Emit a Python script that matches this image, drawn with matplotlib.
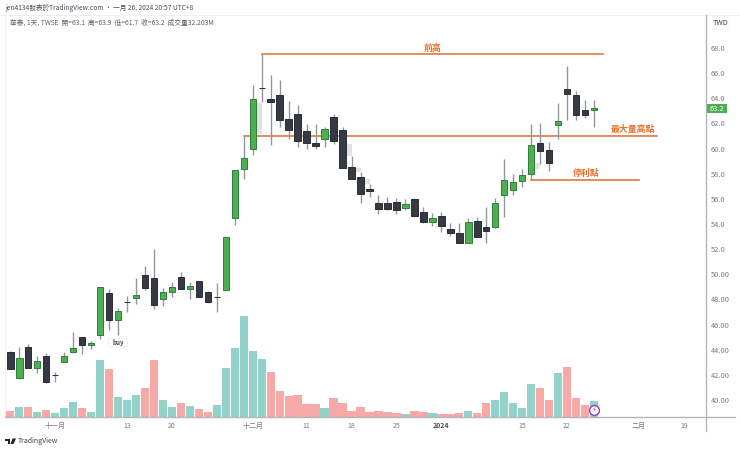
import matplotlib
matplotlib.use('Agg')
import matplotlib.pyplot as plt
import numpy as np
from matplotlib.lines import Line2D
from matplotlib.patches import FancyBboxPatch, Polygon, Rectangle

# daily candles, index 0 is the first bar on the left
opens = [43.81, 41.77, 44.19, 42.57, 43.52, 42.0, 43.0, 43.81, 45.0, 44.37, 45.14,
         48.48, 46.39, 47.77, 48.14, 49.97, 49.68, 48.0, 48.59, 49.78, 48.85, 49.46,
         48.61, 48.19, 48.77, 54.5, 58.37, 59.99, 64.82, 63.97, 64.26, 62.38, 62.77,
         61.37, 60.47, 60.79, 62.48, 61.45, 58.56, 57.76, 56.75, 55.64, 55.64, 55.75,
         55.27, 55.96, 54.95, 54.18, 54.66, 53.58, 53.28, 52.49, 54.26, 53.79, 53.79,
         56.3, 56.7, 57.39, 57.97, 60.47, 59.86, 61.87, 64.76, 64.26, 63.07, 63.1]
highs = [43.92, 44.19, 44.42, 43.5, 43.71, 42.25, 43.79, 45.43, 45.0, 44.72, 48.96,
         48.8, 47.29, 48.27, 49.68, 50.68, 51.98, 48.88, 49.41, 50.15, 49.41, 49.49,
         48.64, 49.3, 53.0, 58.27, 61.0, 65.06, 67.5, 65.88, 65.45, 63.78, 63.46,
         61.95, 61.98, 61.74, 62.75, 61.69, 59.4, 58.1, 57.18, 56.28, 56.17, 56.04,
         55.96, 56.06, 55.32, 54.84, 54.98, 54.05, 54.05, 54.45, 54.58, 55.37, 56.04,
         59.17, 57.97, 58.37, 61.98, 62.0, 60.49, 63.6, 66.57, 64.58, 63.86, 63.9]
lows = [42.46, 41.64, 42.57, 42.17, 41.35, 41.45, 43.0, 43.71, 43.68, 44.05, 44.87,
        45.6, 45.19, 47.02, 47.66, 48.72, 47.26, 47.5, 48.19, 48.83, 48.03, 48.19,
        47.74, 47.02, 48.77, 53.9, 57.58, 59.49, 63.7, 60.28, 61.69, 60.73, 60.12,
        60.0, 60.0, 60.1, 60.4, 58.42, 57.58, 55.69, 56.17, 54.82, 55.11, 54.82,
        55.11, 54.53, 54.1, 53.84, 53.39, 53.07, 52.49, 52.49, 52.99, 52.49, 53.7,
        54.58, 56.3, 56.97, 57.5, 58.77, 58.18, 60.79, 62.27, 62.27, 62.4, 61.7]
closes = [42.46, 43.36, 42.57, 43.12, 41.4, 42.0, 43.52, 44.1, 44.34, 44.53, 48.96,
          46.39, 47.05, 47.77, 48.38, 48.88, 47.58, 48.56, 49.0, 48.83, 49.07, 48.19,
          47.77, 48.19, 53.0, 58.27, 59.25, 63.97, 64.82, 63.68, 62.3, 61.47, 60.57,
          60.47, 60.18, 61.55, 60.6, 58.48, 57.58, 56.38, 56.6, 55.19, 55.19, 55.08,
          55.56, 54.66, 54.18, 54.47, 53.85, 53.28, 52.49, 54.18, 52.99, 53.47, 55.64,
          57.47, 57.36, 57.87, 60.25, 59.78, 58.87, 62.17, 64.37, 62.69, 62.69, 63.2]

# volume in millions, u = teal bar, d = red bar
volumes = [12.3, 19.2, 19.2, 9.6, 13.7, 6.9, 17.8, 30.1, 17.8, 9.6, 116.5, 98.0,
           40.4, 34.3, 43.8, 58.9, 115.8, 33.6, 20.6, 27.4, 21.9, 16.4, 10.3, 24.0,
           100.0, 141.1, 206.9, 135.6, 119.2, 91.8, 53.4, 42.5, 44.5, 26.0, 26.0, 18.5,
           39.0, 28.8, 12.3, 19.9, 10.3, 11.6, 8.9, 6.9, 5.5, 11.0, 8.9, 7.5, 6.2, 5.5,
           7.5, 12.3, 8.2, 28.1, 34.9, 50.0, 28.1, 17.8, 67.1, 59.6, 34.3, 89.7, 102.1,
           39.0, 24.7, 32.2]
vol_dirs = ['d', 'u', 'd', 'u', 'd', 'u', 'u', 'u', 'd', 'u', 'u', 'd', 'u', 'u', 'u', 'd', 'd',
            'u', 'u', 'd', 'u', 'd', 'd', 'u', 'u', 'u', 'u', 'u', 'u', 'd', 'd', 'd', 'd', 'd',
            'd', 'u', 'd', 'd', 'd', 'd', 'd', 'd', 'd', 'd', 'u', 'd', 'd', 'u', 'd', 'd', 'd',
            'u', 'd', 'd', 'u', 'u', 'u', 'u', 'u', 'd', 'd', 'u', 'd', 'd', 'd', 'u']

# faint grey leftovers beside a few candles: index, top, bottom
shade_idx = [28, 38, 39, 40, 59]
shade_top = [63.65, 60.36, 58.42, 57.58, 58.82]
shade_bot = [61.13, 59.41, 58.1, 57.18, 58.37]

# drawn levels: start index, end index, price, label, label index, label price
level_start = [28, 26, 58]
level_end = [66, 72, 70]
level_price = [67.5, 61.0, 57.5]
level_text = ['前高', '最大量高點', '停利點']
level_text_x = [47, 69.3, 64.1]
level_text_y = [68.0, 61.55, 58.05]

price_ticks = [68, 66, 64, 62, 60, 58, 56, 54, 52, 50, 48, 46, 44, 42, 40]
price_labels = ['68.0', '66.0', '64.0', '62.0', '60.0', '58.0', '56.0', '54.0', '52.0',
                '50.00', '48.00', '46.00', '44.00', '42.00', '40.00']
date_ticks = [5, 13, 18, 27, 33, 38, 43, 48, 57, 62, 70, 75]
date_labels = ['十一月', '13', '20', '十二月', '11', '18', '25', '2024', '15', '22', '二月', '19']

title_text = 'jen4134發表於TradingView.com · 一月 26, 2024 20:57 UTC+8'
info_text = '華泰, 1天, TWSE  開=63.1  高=63.9  低=61.7  收=63.2  成交量32.203M'

GREEN = '#4caf50'
GREEN_EDGE = '#2f7d3b'
DARK = '#363a45'
WICK = '#93969c'
TEAL = '#92d2c8'
PINK = '#f7a9a7'
ORANGE = '#df6a30'
TICK = '#787b86'

plt.rcParams['font.family'] = ['Noto Sans CJK TC', 'DejaVu Sans']

W, H = 740, 450
figure = plt.figure(figsize=(W / 100, H / 100), dpi=100)


def px_box(left, top, right, bottom):
    return [left / W, 1 - bottom / H, (right - left) / W, (bottom - top) / H]


def fx(x):
    return x / W


def fy(y):
    return 1 - y / H


vol_ax = figure.add_axes(px_box(5, 14.5, 706, 416.7))
axes = figure.add_axes(px_box(5, 14.5, 706, 416.7), sharex=vol_ax)
axes.patch.set_alpha(0)

x = np.arange(len(closes))
opens = np.array(opens)
closes = np.array(closes)

# volume
vol_colors = [TEAL if d == 'u' else PINK for d in vol_dirs]
vol_ax.bar(x, volumes, width=0.93, color=vol_colors, linewidth=0)
vol_ax.set_ylim(0, 826.5)
vol_ax.set_xlim(-0.59, 77.47)
vol_ax.set_yticks([])
vol_ax.set_xticks(date_ticks)
vol_ax.set_xticklabels(date_labels, fontsize=5, color=TICK)
vol_ax.tick_params(axis='x', length=0, pad=3.5)
for lab in vol_ax.get_xticklabels():
    if lab.get_text() == '2024':
        lab.set_color('#4a4d57')
        lab.set_fontweight('bold')
for side in ['top', 'right', 'left', 'bottom']:
    vol_ax.spines[side].set_visible(False)

# candles
axes.bar(shade_idx, np.array(shade_top) - np.array(shade_bot), bottom=shade_bot,
         width=-0.55, align='edge', color='#e2e3e1', linewidth=0, zorder=1)
for start, end, price in zip(level_start, level_end, level_price):
    axes.plot([start, end], [price, price], color=ORANGE, linewidth=1.1, zorder=2)
axes.vlines(x, lows, highs, color=WICK, linewidth=1.0, zorder=3)
up = closes > opens
axes.bar(x, np.abs(closes - opens), bottom=np.minimum(opens, closes), width=0.72,
         color=[GREEN if u else DARK for u in up],
         edgecolor=[GREEN_EDGE if u else '#2a2d36' for u in up], linewidth=0.7, zorder=4)

for label, lx, ly in zip(level_text, level_text_x, level_text_y):
    axes.text(lx, ly, label, color='#e8702a', fontsize=6.4, fontweight='bold',
              ha='center', va='center', zorder=6)

axes.set_ylim(38.67, 70.665)
axes.yaxis.tick_right()
axes.set_yticks(price_ticks)
axes.set_yticklabels(price_labels, fontsize=5.4, color=TICK)
axes.tick_params(axis='y', length=0, pad=3.5)
axes.tick_params(axis='x', length=0, labelbottom=False)
for side in ['top', 'right', 'left', 'bottom']:
    axes.spines[side].set_visible(False)

# buy tag
axes.add_patch(FancyBboxPatch((10.98, 44.23), 2.0, 0.68, boxstyle='round,pad=0.05,rounding_size=0.25',
                              facecolor='white', edgecolor='#ededed', linewidth=0.6,
                              mutation_aspect=0.35, zorder=5))
axes.text(11.98, 44.57, 'buy', fontsize=4.4, fontweight='bold', color='#444750',
          ha='center', va='center', zorder=6)

# flash marker on the last volume bar
vol_ax.scatter([65], [14.5], s=50, facecolor='white', edgecolor='#8e3fc0', linewidth=1.0,
               clip_on=False, zorder=5)
vol_ax.text(65, 14.5, '⚡', fontsize=5, color='#8e3fc0', ha='center', va='center',
            family=['DejaVu Sans'], zorder=6)

# frame lines
figure.add_artist(Line2D([fx(0), fx(740)], [fy(14.5), fy(14.5)], color='#ececec', linewidth=0.6))
figure.add_artist(Line2D([fx(5), fx(5)], [fy(14.5), fy(416.7)], color='#f0f0f0', linewidth=0.6))
figure.add_artist(Line2D([fx(5), fx(735)], [fy(416.7), fy(416.7)], color='#b2b4b8', linewidth=1.0))
figure.add_artist(Line2D([fx(706.3), fx(706.3)], [fy(14.5), fy(431)], color='#b2b4b8', linewidth=1.0))

# price tag and currency
figure.add_artist(Rectangle((fx(706.5), fy(113)), 20.5 / W, 8.7 / H, facecolor=GREEN,
                            edgecolor='none', transform=figure.transFigure))
figure.text(fx(717), fy(108.6), '63.2', fontsize=5.4, color='white', ha='center', va='center')
figure.add_artist(FancyBboxPatch((fx(713), fy(29)), 15 / W, 12 / H, boxstyle='round,pad=0',
                                 facecolor='white', edgecolor='#f2f2f2', linewidth=0.5,
                                 transform=figure.transFigure))
figure.text(fx(720.5), fy(23), 'TWD', fontsize=5.2, color='#3f424c', fontweight='medium',
            ha='center', va='center')

# header
figure.text(fx(5), fy(8), title_text, fontsize=4.8, color='#4a4d57', ha='left', va='center')
figure.text(fx(10), fy(22.5), info_text, fontsize=4.85, color='#5d606b', ha='left', va='center')

# logo and footer
logo = '#1e222d'
figure.add_artist(Polygon([(fx(5), fy(438.5)), (fx(10), fy(438.5)), (fx(10), fy(444)),
                           (fx(8), fy(444)), (fx(8), fy(440.5)), (fx(5), fy(440.5))],
                          closed=True, facecolor=logo, edgecolor='none', transform=figure.transFigure))
figure.add_artist(Polygon([(fx(12.5), fy(438.5)), (fx(16), fy(438.5)), (fx(13.5), fy(444)),
                           (fx(10.5), fy(444))],
                          closed=True, facecolor=logo, edgecolor='none', transform=figure.transFigure))
figure.text(fx(18), fy(441), 'TradingView', fontsize=5, color='#3a3d47', ha='left', va='center')

plt.savefig('out.png', dpi=100)
